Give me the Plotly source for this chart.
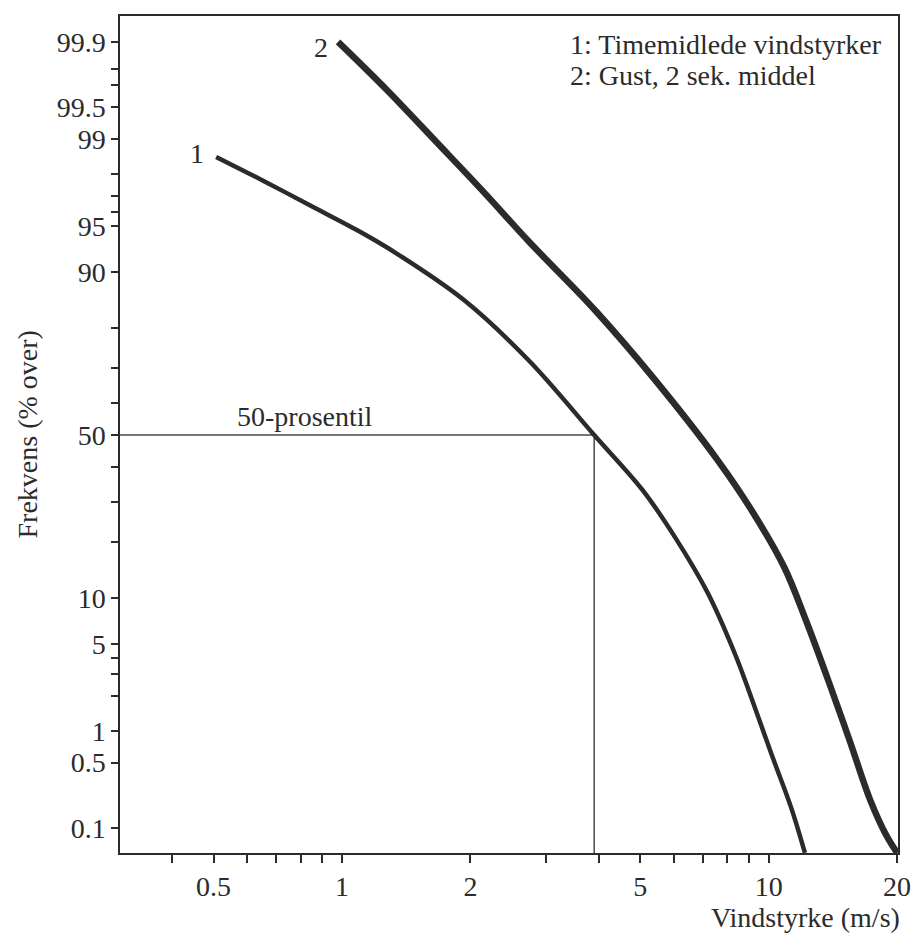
import math
from statistics import NormalDist
import plotly.graph_objects as go

# ---- data ----
# Curve 1: hourly mean wind speed (m/s) vs. exceedance frequency (%)
v_timemiddel = [0.507, 0.655, 0.847, 1.089, 1.349, 1.931, 2.748, 3.9, 5.06, 6.03, 7.2, 8.32, 8.92, 10.13, 11.28, 12.16]
p_timemiddel = [98.56, 97.71, 96.41, 94.6, 92.26, 85.57, 71.97, 50.0, 33.3, 21.1, 10.7, 4.33, 2.38, 0.62, 0.172, 0.051]

# Curve 2: gust, 2 s mean
v_gust = [0.979, 1.279, 1.671, 2.149, 2.748, 3.933, 5.42, 7.59, 9.11, 10.87, 12.22, 13.97, 15.55, 17.3, 18.85, 20.0]
p_gust = [99.9, 99.66, 98.92, 97.19, 93.54, 83.52, 66.7, 42.2, 27.8, 14.97, 7.29, 2.38, 0.774, 0.205, 0.083, 0.051]

# 50-percentile of curve 1
v_median = 3.9
p_median = 50.0

# axis ticks
x_tick_major = [0.5, 1, 2, 5, 10, 20]
x_tick_minor = [0.4, 0.6, 0.7, 0.8, 0.9, 3, 4, 6, 7, 8, 9]
y_tick_major = [99.9, 99.5, 99, 95, 90, 50, 10, 5, 1, 0.5, 0.1]
y_tick_minor = [99.8, 99.7, 98, 97, 96, 80, 70, 60, 40, 30, 20, 4, 3, 2]

# ---- normal-probability scale for the frequency axis ----
nd = NormalDist()


def pscale(p):
    return nd.inv_cdf(p / 100.0)


def fmt(v):
    return "%g" % v


INK = "#2b2b2b"
FONT = "Liberation Serif"
FS = 28

fig = go.Figure()

# 50-percentile guide lines (clipped by the plot area)
fig.add_trace(go.Scatter(
    x=[0.2, v_median, v_median],
    y=[pscale(p_median), pscale(p_median), pscale(0.001)],
    mode="lines", line=dict(color="#4a4a4a", width=1.5),
    hoverinfo="skip", showlegend=False))

fig.add_trace(go.Scatter(
    x=v_timemiddel, y=[pscale(p) for p in p_timemiddel],
    mode="lines", line=dict(color=INK, width=4.5, shape="spline", smoothing=1.0),
    showlegend=False, name="1"))

fig.add_trace(go.Scatter(
    x=v_gust, y=[pscale(p) for p in p_gust],
    mode="lines", line=dict(color=INK, width=6.5, shape="spline", smoothing=1.0),
    showlegend=False, name="2"))

xt = x_tick_major + x_tick_minor
xtt = [fmt(v) for v in x_tick_major] + [""] * len(x_tick_minor)
yt = [pscale(p) for p in y_tick_major + y_tick_minor]
ytt = [fmt(p) for p in y_tick_major] + [""] * len(y_tick_minor)

fig.update_xaxes(
    type="log", range=[-0.5203, 1.3031],
    tickvals=xt, ticktext=xtt,
    ticks="outside", ticklen=8, tickwidth=1.5, tickcolor=INK,
    showline=True, linecolor=INK, linewidth=1.5, mirror=True,
    showgrid=False, zeroline=False,
    tickfont=dict(family=FONT, size=FS, color=INK))

fig.update_yaxes(
    range=[-3.286, 3.294],
    tickvals=yt, ticktext=ytt,
    ticks="outside", ticklen=7, tickwidth=1.5, tickcolor=INK,
    showline=True, linecolor=INK, linewidth=1.5, mirror=True,
    showgrid=False, zeroline=False,
    tickfont=dict(family=FONT, size=FS, color=INK))

ann_font = dict(family=FONT, size=FS, color=INK)
annotations = [
    # curve labels at start of each curve
    dict(x=math.log10(v_timemiddel[0]), y=pscale(p_timemiddel[0]), xref="x", yref="y",
         text="1", showarrow=False, xanchor="right", yanchor="middle",
         xshift=-10, yshift=3, font=ann_font),
    dict(x=math.log10(v_gust[0]), y=pscale(p_gust[0]), xref="x", yref="y",
         text="2", showarrow=False, xanchor="right", yanchor="middle",
         xshift=-8, yshift=-6, font=ann_font),
    # 50-percentile label
    dict(x=math.log10(0.82), y=pscale(p_median), xref="x", yref="y",
         text="50-prosentil", showarrow=False, xanchor="center", yanchor="bottom",
         yshift=1, font=ann_font),
    # key text
    dict(x=0.5758, y=0.9654, xref="paper", yref="paper",
         text="1: Timemidlede vindstyrker", showarrow=False,
         xanchor="left", yanchor="middle", font=ann_font),
    dict(x=0.5758, y=0.9295, xref="paper", yref="paper",
         text="2: Gust, 2 sek. middel", showarrow=False,
         xanchor="left", yanchor="middle", font=ann_font),
    # axis titles
    dict(x=1, y=0, xref="paper", yref="paper", text="Vindstyrke (m/s)",
         showarrow=False, xanchor="right", yanchor="middle",
         xshift=4, yshift=-64, font=ann_font),
    dict(x=0, y=0.5, xref="paper", yref="paper", text="Frekvens (% over)",
         showarrow=False, textangle=-90, xanchor="center", yanchor="middle",
         xshift=-93, font=ann_font),
]

fig.update_layout(
    width=923, height=933,
    margin=dict(l=120, r=18, t=16, b=80),
    paper_bgcolor="white", plot_bgcolor="white",
    annotations=annotations,
    font=dict(family=FONT, size=FS, color=INK),
)

fig.write_html("out.html")
